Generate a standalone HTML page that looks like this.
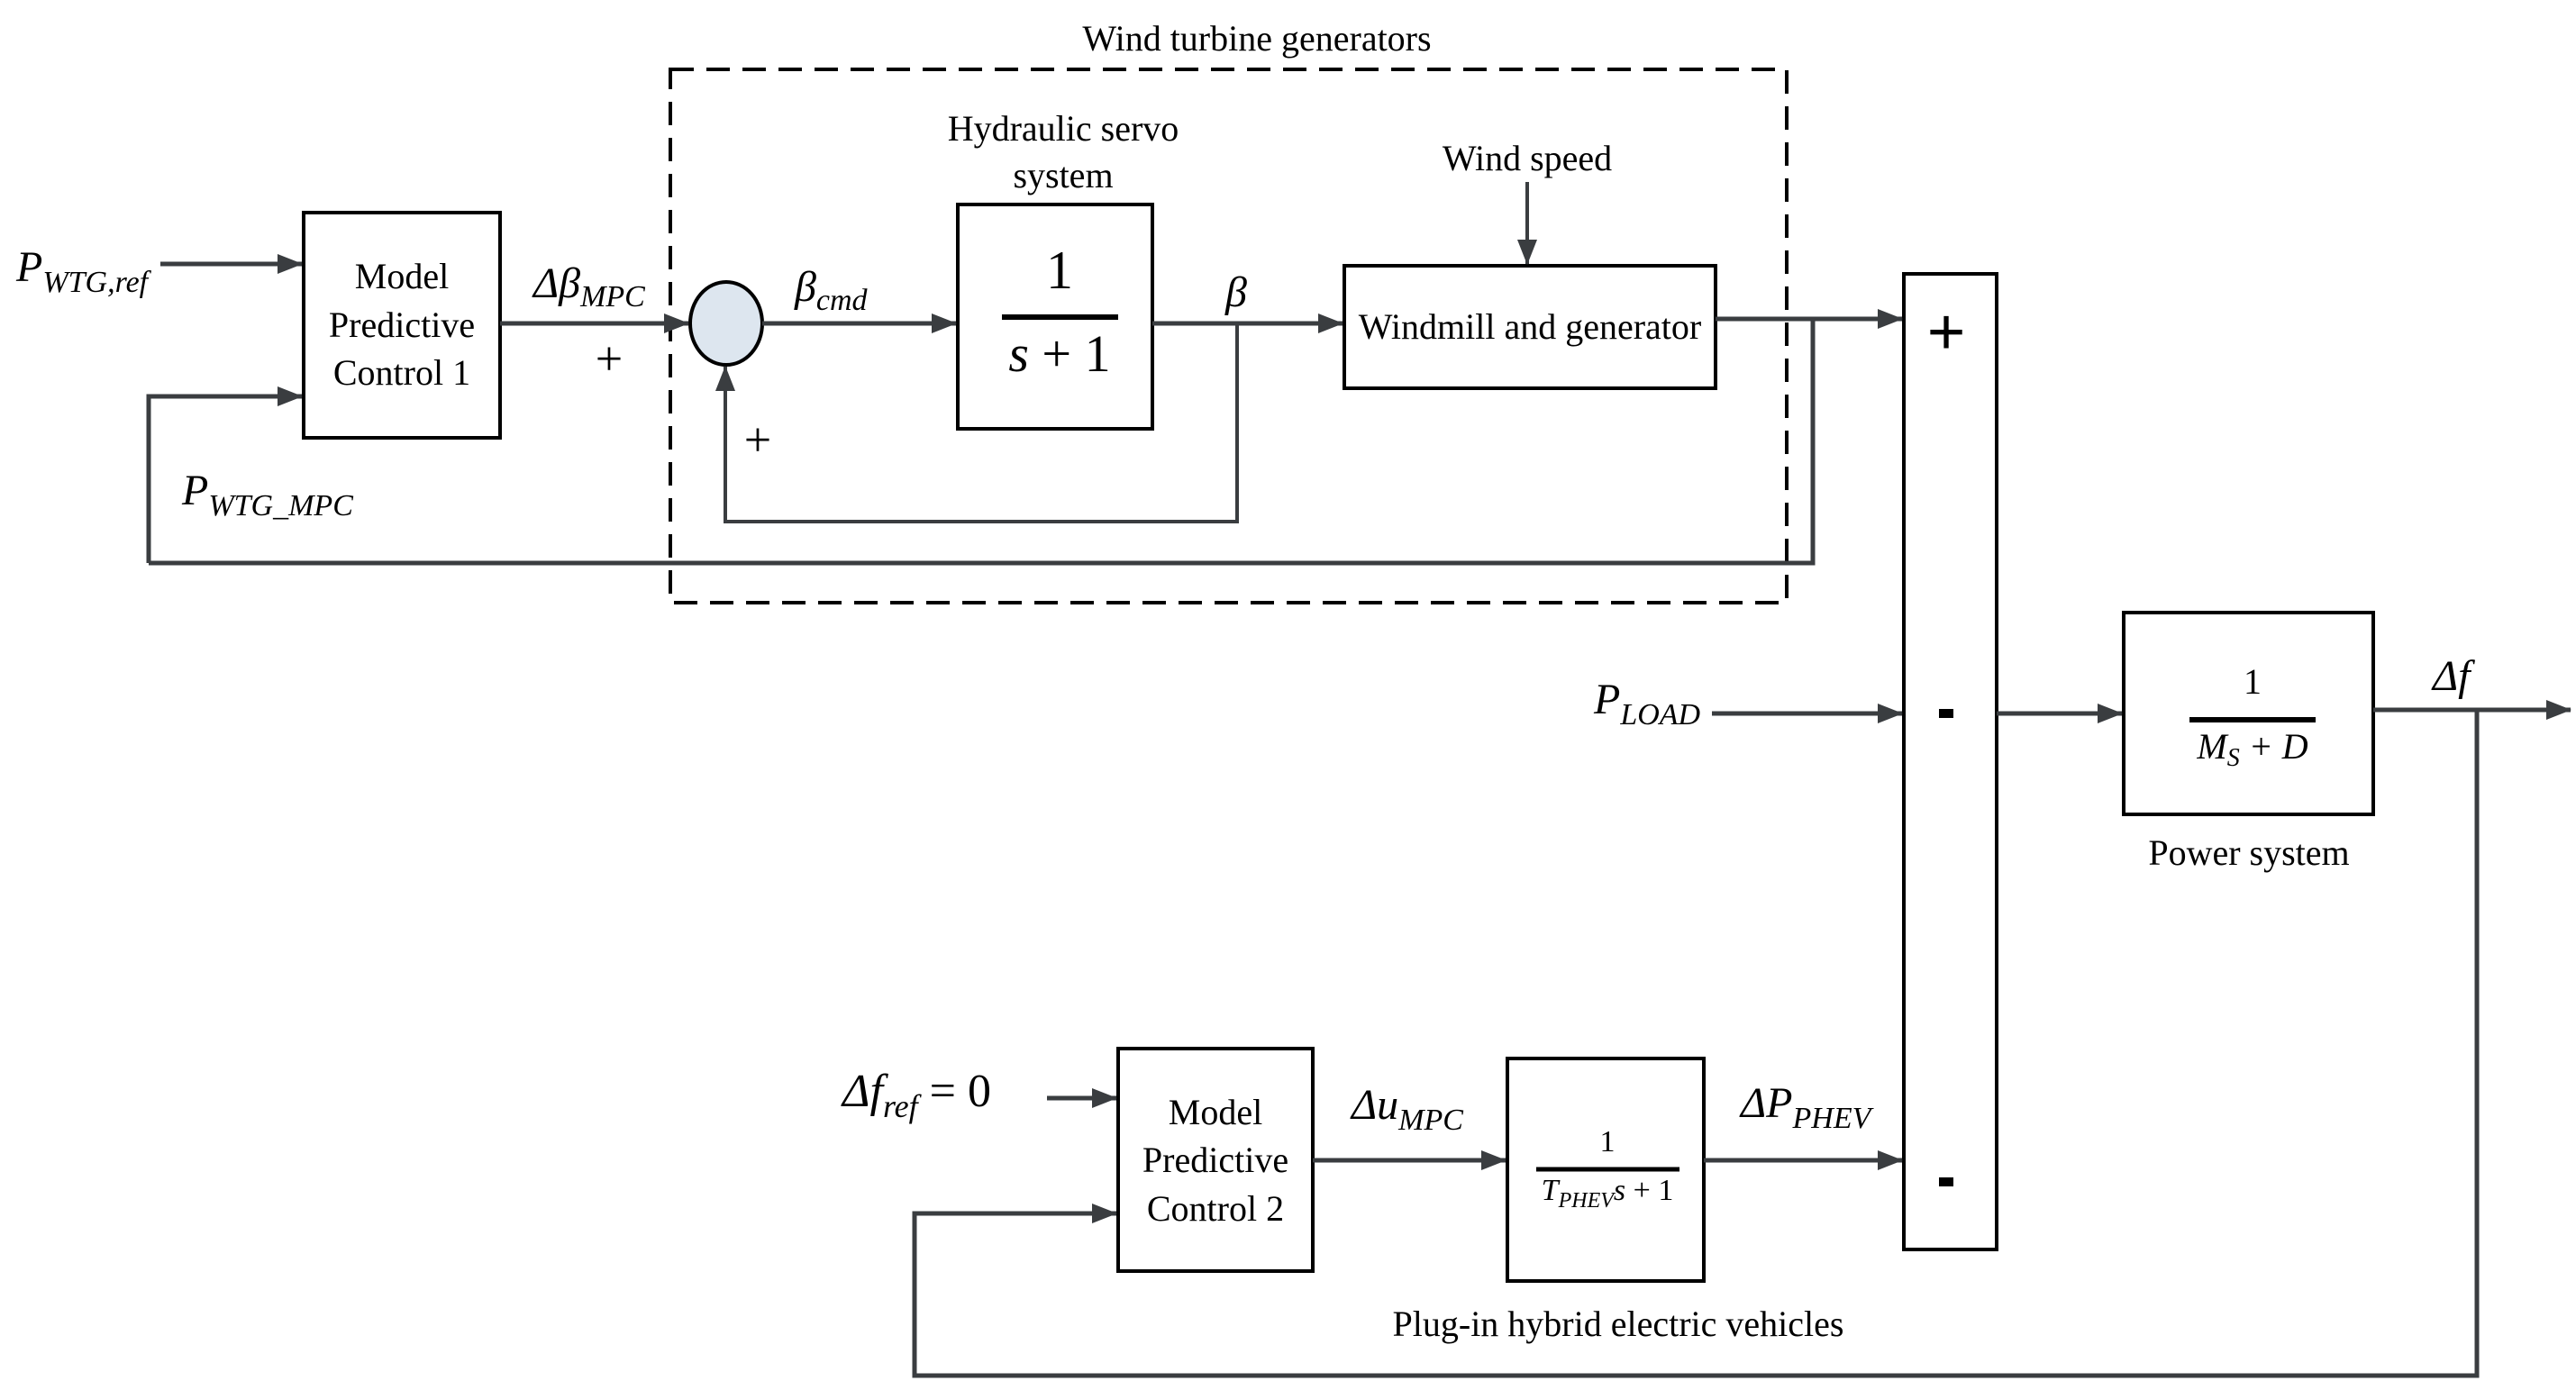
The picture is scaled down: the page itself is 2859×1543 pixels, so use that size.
<!DOCTYPE html>
<html><head><meta charset="utf-8"><style>html,body{margin:0;padding:0;background:#fff}svg{display:block}svg text{font-family:"Liberation Serif",serif}</style></head>
<body>
<svg width="2859" height="1543" viewBox="0 0 2859 1543" xmlns="http://www.w3.org/2000/svg">
<defs>
<marker id="b" markerWidth="28" markerHeight="22" refX="27" refY="11" orient="auto" markerUnits="userSpaceOnUse"><path d="M0,0 L28,11 L0,22 z" fill="#3a3d40"/></marker>
</defs>
<g fill="none" stroke="#000" stroke-width="4">
<rect x="744" y="77" width="1239" height="592" stroke-dasharray="26,14" stroke-width="4"/>
<rect x="337" y="236" width="218" height="250"/>
<rect x="1063" y="227" width="216" height="249"/>
<rect x="1492" y="295" width="412" height="136"/>
<rect x="2113" y="304" width="103" height="1083"/>
<rect x="2357" y="680" width="277" height="224"/>
<rect x="1241" y="1164" width="216" height="247"/>
<rect x="1673" y="1175" width="218" height="247"/>
</g>
<ellipse cx="806" cy="359" rx="40" ry="46" fill="#dde6ef" stroke="#000" stroke-width="4"/>
<g stroke="#3a3d40" stroke-width="5" fill="none">
<path d="M178 293 H335" marker-end="url(#b)"/>
<path d="M165 625 V440 H335" marker-end="url(#b)"/>
<path d="M165 625 H2012 V354"/>
<path d="M555 359 H764" marker-end="url(#b)"/>
<path d="M846 359 H1061" marker-end="url(#b)"/>
<path d="M1279 359 H1490" marker-end="url(#b)"/>
<path d="M1373 359 V579 H805 V407" marker-end="url(#b)" stroke-width="4"/>
<path d="M1695 202 V293" marker-end="url(#b)" stroke-width="4"/>
<path d="M1904 354 H2111" marker-end="url(#b)"/>
<path d="M1900 792 H2111" marker-end="url(#b)"/>
<path d="M2216 792 H2355" marker-end="url(#b)"/>
<path d="M2634 788 H2853" marker-end="url(#b)"/>
<path d="M2749 788 V1527 H1015 V1347 H1239" marker-end="url(#b)"/>
<path d="M1162 1219 H1239" marker-end="url(#b)"/>
<path d="M1457 1288 H1671" marker-end="url(#b)"/>
<path d="M1891 1288 H2111" marker-end="url(#b)"/>
</g>
<g stroke="#000" stroke-width="6">
<line x1="1112" y1="352" x2="1241" y2="352"/>
<line x1="2430" y1="799" x2="2570" y2="799"/>
<line x1="1705" y1="1298" x2="1864" y2="1298" stroke-width="5"/>
</g>
<g fill="#000" font-size="40" text-anchor="middle">
<text x="1395" y="56">Wind turbine generators</text>
<text x="1180" y="156">Hydraulic servo</text>
<text x="1180" y="208">system</text>
<text x="1695" y="189">Wind speed</text>
<text x="1698" y="376">Windmill and generator</text>
<text x="446" y="320">Model</text>
<text x="446" y="374">Predictive</text>
<text x="446" y="427">Control 1</text>
<text x="1349" y="1248">Model</text>
<text x="1349" y="1301">Predictive</text>
<text x="1349" y="1355">Control 2</text>
<text x="2496" y="960">Power system</text>
<text x="1796" y="1483">Plug-in hybrid electric vehicles</text>
<text x="2500" y="770">1</text>
<text x="2500" y="842" font-style="italic">M<tspan font-size="28" dy="8">S</tspan><tspan dy="-8"> + D</tspan></text>
<text x="1784" y="1278" font-size="34">1</text>
<text x="1784" y="1332" font-size="34" font-style="italic">T<tspan font-size="24" dy="8">PHEV</tspan><tspan dy="-8">s</tspan><tspan font-style="normal"> + 1</tspan></text>
<text x="1176" y="320" font-size="60">1</text>
<text x="1176" y="412" font-size="58"><tspan font-style="italic">s</tspan> + 1</text>
</g>
<g fill="#000" font-size="48" font-style="italic">
<text x="18" y="312">P<tspan font-size="34" dy="12">WTG,ref</tspan></text>
<text x="202" y="560">P<tspan font-size="34" dy="12">WTG_MPC</tspan></text>
<text x="592" y="330">Δβ<tspan font-size="34" dy="10">MPC</tspan></text>
<text x="882" y="334">β<tspan font-size="34" dy="10">cmd</tspan></text>
<text x="1360" y="340">β</text>
<text x="1769" y="792">P<tspan font-size="34" dy="12">LOAD</tspan></text>
<text x="2700" y="766">Δf</text>
<text x="935" y="1228" font-size="52">Δf<tspan font-size="36" dy="12">ref</tspan><tspan dy="-12" font-style="normal"> = 0</tspan></text>
<text x="1500" y="1242">Δu<tspan font-size="34" dy="12">MPC</tspan></text>
<text x="1932" y="1240">ΔP<tspan font-size="34" dy="12">PHEV</tspan></text>
</g>
<g fill="#000" text-anchor="middle">
<text x="676" y="416" font-size="54">+</text>
<text x="841" y="506" font-size="54">+</text>
<text x="2160" y="394" font-size="76" font-weight="bold">+</text>
</g>
<rect x="2152" y="787" width="16" height="10" fill="#000"/>
<rect x="2152" y="1307" width="16" height="10" fill="#000"/>
</svg>
</body></html>
